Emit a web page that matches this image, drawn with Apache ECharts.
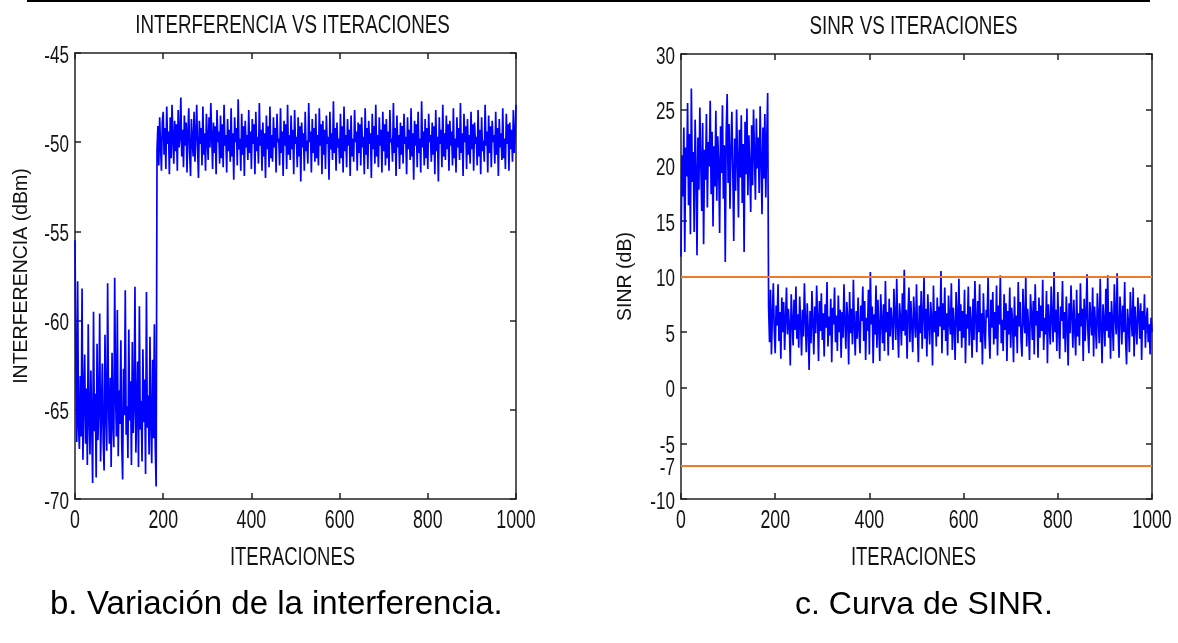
<!DOCTYPE html>
<html>
<head>
<meta charset="utf-8">
<script src="https://cdn.jsdelivr.net/npm/echarts@6/dist/echarts.min.js"></script>
<style>html,body{margin:0;padding:0;background:#fff}#c{width:1178px;height:643px}</style>
</head>
<body>
<div id="c"></div>
<script>
// ---- data (one value every 2 iterations) ----
const STEP = 2;
const xTicks = [0, 200, 400, 600, 800, 1000];
const interfTicks = [-70, -65, -60, -55, -50, -45];
const sinrTicks = [-10, -7, -5, 0, 5, 10, 15, 20, 25, 30];
const sinrThresholds = [10, -7];

const interferencia = [
-55.5,-62.5,-66.8,-57.8,-65.9,-67.2,-63.1,-66.5,-58.2,-67.8,-64.3,-61.9,-66.9,-63.8,-68.1,-60.2,-65.4,-67.5,-62.8,-65.9,-69.1,-59.5,-66.2,-64.1,-68.8,
-61.3,-66.7,-64.9,-59.6,-67.9,-65.2,-62.4,-66.8,-68.4,-60.8,-65.1,-67.3,-57.9,-64.6,-66.9,-63.2,-68.2,-61.8,-65.7,-67.1,-57.6,-64.2,-66.5,-59.4,-67.6,
-63.9,-65.8,-61.1,-66.9,-68.9,-62.7,-65.3,-58.3,-66.4,-64.8,-67.7,-60.5,-65.6,-63.4,-68.1,-61.2,-66.3,-64.7,-58.1,-67.4,-65.0,-62.3,-68.2,-59.2,-66.1,
-64.5,-67.9,-61.6,-65.7,-63.3,-68.6,-58.4,-66.0,-64.2,-67.5,-60.9,-65.8,-68.0,-62.2,-66.6,-60.2,-67.1,-69.3,-50.4,-49.1,-51.3,-48.6,-50.2,-51.6,-48.9,
-48.3,-50.7,-49.2,-51.5,-48.0,-50.1,-49.4,-51.8,-48.6,-50.9,-47.9,-49.8,-51.2,-48.8,-50.5,-49.0,-51.6,-48.2,-50.3,-49.7,-47.5,-50.8,-49.3,-51.4,-48.5,
-50.2,-48.9,-51.7,-49.5,-48.1,-50.6,-51.9,-48.7,-49.9,-50.8,-48.3,-51.1,-49.6,-47.9,-50.4,-52.0,-48.8,-50.1,-49.2,-51.3,-48.0,-50.7,-49.5,-51.6,-48.4,
-49.8,-51.0,-48.6,-50.3,-47.8,-49.7,-51.5,-48.9,-50.6,-49.1,-51.8,-48.2,-50.0,-49.4,-51.2,-48.5,-50.9,-49.0,-51.4,-47.9,-50.2,-49.6,-51.7,-48.7,-50.5,
-49.3,-51.1,-48.1,-50.8,-49.5,-52.1,-48.6,-50.0,-49.2,-51.3,-47.6,-50.4,-49.8,-51.6,-48.4,-50.7,-49.1,-51.9,-48.8,-50.3,-49.6,-51.0,-48.2,-50.6,-49.4,
-51.5,-48.7,-50.1,-49.0,-51.8,-48.3,-50.5,-49.7,-51.2,-47.8,-50.2,-49.3,-51.6,-48.9,-50.8,-49.5,-52.0,-48.5,-50.4,-49.1,-51.4,-48.0,-50.9,-49.6,-51.1,
-48.6,-50.3,-49.2,-51.7,-48.4,-50.0,-49.8,-51.3,-48.1,-50.6,-49.4,-51.9,-48.8,-50.2,-49.0,-51.5,-47.9,-50.7,-49.6,-51.0,-48.5,-50.4,-49.3,-51.8,-48.2,
-50.1,-49.7,-51.4,-48.6,-50.8,-49.1,-52.2,-48.9,-50.3,-49.5,-51.6,-48.3,-50.5,-49.9,-51.2,-47.8,-50.0,-49.4,-51.7,-48.7,-50.6,-49.2,-51.1,-48.4,-50.9,
-49.6,-51.3,-48.1,-50.2,-49.0,-51.8,-48.8,-50.7,-49.3,-51.5,-48.5,-50.1,-49.7,-52.1,-48.3,-50.4,-49.5,-51.0,-47.7,-50.6,-49.2,-51.6,-48.9,-50.3,-49.8,
-51.2,-48.4,-50.9,-49.1,-51.7,-48.0,-50.5,-49.6,-51.4,-48.7,-50.2,-49.3,-51.9,-48.5,-50.8,-49.8,-51.1,-48.2,-50.0,-49.4,-51.6,-48.9,-50.6,-49.0,-51.3,
-48.6,-50.3,-49.7,-51.8,-48.1,-50.7,-49.2,-51.5,-48.8,-50.1,-49.5,-52.0,-48.4,-50.4,-49.1,-51.2,-47.9,-50.8,-49.6,-51.4,-48.6,-50.2,-49.3,-51.7,-48.3,
-50.5,-49.0,-51.3,-48.7,-50.9,-49.4,-51.6,-48.2,-50.0,-49.8,-51.1,-47.8,-50.6,-49.2,-51.9,-48.5,-50.3,-49.6,-51.5,-48.9,-50.7,-49.1,-51.2,-48.4,-50.1,
-49.7,-51.8,-48.6,-50.4,-49.3,-51.0,-48.1,-50.8,-49.5,-52.1,-48.8,-50.2,-49.0,-51.4,-48.3,-50.6,-49.8,-51.7,-47.7,-50.3,-49.4,-51.3,-48.7,-50.9,-49.2,
-51.5,-48.4,-50.0,-49.6,-51.1,-48.9,-50.7,-49.1,-51.8,-48.2,-50.5,-49.7,-52.2,-48.6,-50.1,-49.3,-51.4,-47.9,-50.8,-49.5,-51.0,-48.5,-50.4,-49.0,-51.6,
-48.8,-50.2,-49.4,-51.3,-48.1,-50.9,-49.8,-51.7,-48.6,-50.3,-49.2,-51.0,-47.8,-50.6,-49.5,-51.9,-48.4,-50.0,-49.1,-51.5,-48.7,-50.7,-49.6,-51.2,-48.3,
-50.4,-49.0,-51.6,-48.9,-50.1,-49.7,-51.3,-48.2,-50.8,-49.3,-51.8,-48.6,-50.5,-49.9,-51.1,-47.9,-50.2,-49.4,-51.7,-48.5,-50.6,-49.1,-51.4,-48.8,-50.0,
-49.6,-51.2,-48.3,-50.7,-49.2,-51.9,-48.7,-50.3,-49.5,-51.0,-48.1,-50.9,-49.8,-51.5,-48.4,-50.1,-49.0,-51.6,-48.9,-50.4,-49.3,-51.1,-48.2,-50.6,-49.7,
-47.9
];

const sinr = [
11.8,20.9,17.2,23.4,12.2,21.6,19.0,25.6,16.4,22.8,13.8,26.9,18.5,21.2,14.0,24.1,19.6,11.9,22.5,17.8,25.2,20.3,15.9,23.8,12.9,
21.4,18.7,24.6,16.2,22.1,19.9,25.8,17.4,23.0,14.5,21.7,18.1,24.9,16.8,22.6,20.2,13.9,23.5,19.3,25.4,17.0,21.8,11.3,22.9,26.4,
18.4,23.7,16.1,21.3,24.8,19.5,13.2,22.4,17.7,25.0,20.6,15.3,23.2,18.9,24.5,16.6,21.9,12.2,23.9,19.2,25.1,17.3,22.7,20.0,15.8,
23.6,18.2,25.0,21.1,16.9,24.2,19.7,22.5,17.5,25.3,20.4,15.6,23.4,18.8,24.6,17.1,22.3,26.5,7.2,4.1,8.8,3.0,6.5,9.4,5.2,
3.1,7.4,5.6,9.3,4.2,6.8,2.6,8.1,5.0,7.7,3.4,6.2,9.0,4.8,7.1,5.5,2.0,8.4,6.0,3.8,7.9,5.2,9.1,4.4,6.6,
3.6,8.2,5.8,2.9,7.0,4.6,9.4,6.1,3.2,7.6,5.3,1.6,6.9,4.0,8.7,5.9,3.0,7.3,4.9,9.2,6.3,2.4,7.8,5.1,8.5,
4.3,6.7,2.8,7.5,5.4,9.5,3.7,6.4,4.7,8.0,2.3,7.2,5.7,9.0,4.1,6.5,3.3,8.3,5.0,7.0,2.7,6.8,4.5,9.3,5.9,
3.5,7.7,6.2,2.1,8.6,4.9,7.1,3.9,9.7,5.6,2.9,6.9,4.4,8.1,5.3,3.1,7.4,6.0,9.1,4.2,7.8,2.5,6.3,5.1,8.8,
3.0,10.4,5.7,7.3,2.2,6.6,4.8,9.2,3.6,7.9,5.4,2.4,8.4,6.1,4.0,7.5,3.3,9.6,5.0,6.8,2.9,8.0,4.6,7.2,5.8,
3.4,8.9,6.4,4.3,9.8,5.5,2.7,7.6,6.2,3.8,8.5,5.1,10.6,4.7,7.0,2.6,6.7,9.0,4.1,7.8,5.6,3.2,8.2,6.0,4.5,
9.3,5.3,2.3,7.4,4.9,8.7,3.5,6.5,10.0,4.4,7.1,2.8,8.4,5.8,3.9,7.7,6.3,2.0,9.2,5.0,6.9,3.7,8.1,4.6,7.3,
5.5,10.5,3.1,7.6,5.2,9.0,4.2,6.7,2.9,8.3,6.0,4.8,9.4,3.4,7.2,5.6,2.5,8.6,6.4,4.0,9.8,5.1,7.5,3.6,6.9,
4.5,8.8,2.2,6.6,5.3,9.1,3.8,7.3,5.9,2.7,8.0,4.3,9.6,6.2,3.2,7.8,5.0,9.3,4.1,6.7,2.1,8.5,5.6,3.5,7.0,
6.3,9.9,4.7,2.6,7.9,5.4,8.6,3.9,6.8,4.4,9.2,2.9,7.4,5.7,10.1,4.0,6.1,3.3,8.4,5.2,7.6,2.4,6.9,4.8,9.0,
3.6,7.2,5.9,2.3,8.2,4.6,6.5,3.1,9.5,5.5,7.7,4.2,2.8,8.9,6.0,4.9,10.0,3.7,7.1,5.3,2.5,8.4,6.6,4.3,7.8,
3.0,9.3,5.6,6.9,2.7,8.1,4.5,7.4,5.1,9.7,3.4,6.3,4.8,8.7,2.2,7.5,5.8,3.9,9.1,6.2,4.1,10.4,5.0,7.0,3.3,
8.6,5.4,2.6,7.3,6.0,9.6,4.4,6.8,3.2,8.2,5.7,2.0,7.6,4.9,9.2,6.4,3.6,7.9,5.2,2.9,8.8,4.6,6.7,3.8,9.4,
5.5,7.1,2.4,8.0,4.2,6.5,10.2,5.0,3.1,7.7,6.1,4.7,9.0,2.8,7.3,5.6,3.5,8.5,6.3,4.0,9.8,5.3,2.2,7.5,6.0,
3.7,8.9,5.1,10.1,4.5,6.8,2.6,7.8,5.9,3.3,9.3,6.4,4.8,10.3,5.4,2.7,8.2,6.6,3.9,7.4,5.0,9.5,4.3,2.1,7.1,
5.8,3.2,8.6,6.2,4.6,9.0,2.8,7.3,5.5,3.9,8.1,6.7,4.4,7.6,2.5,6.9,5.2,8.4,3.6,6.0,7.2,4.1,5.7,3.0,6.3,
5.0
];

// ---- rendering ----
const REG = "'Liberation Sans',Arial,sans-serif";
const NARROW_SCALE = 0.71;   // emulates the condensed (Arial Narrow-like) face of the original
const TXT = '#141414';
const toPairs = arr => arr.map((v, i) => [i * STEP, v]);

const AX = { color: '#222', width: 1.5 };

function xAxes(gi) {
  const base = {
    type: 'value', gridIndex: gi, min: 0, max: 1000, interval: 200,
    axisLine: { onZero: false, lineStyle: AX },
    axisTick: { inside: true, length: 6, lineStyle: AX },
    axisLabel: { show: false }, splitLine: { show: false }
  };
  return [Object.assign({ position: 'bottom' }, base), Object.assign({ position: 'top' }, base)];
}

function yAxes(gi, min, max, ticks, name, gap) {
  const base = {
    type: 'value', gridIndex: gi, min: min, max: max,
    axisLine: { show: true, onZero: false, lineStyle: AX },
    axisTick: { inside: true, length: 6, customValues: ticks, lineStyle: AX },
    axisLabel: { show: false, customValues: ticks },
    splitLine: { show: false }
  };
  return [Object.assign({}, base, {
    position: 'left', name: name, nameLocation: 'middle', nameGap: gap,
    nameTextStyle: { fontFamily: REG, fontSize: 19.5, color: TXT }
  }), Object.assign({}, base, { position: 'right' })];
}

const chart = echarts.init(document.getElementById('c'), null, { renderer: 'canvas' });
chart.setOption({
  animation: false,
  backgroundColor: '#fff',
  grid: [
    { left: 75, top: 53, width: 441, height: 446 },
    { left: 681, top: 54, width: 471, height: 445 }
  ],
  xAxis: [].concat(xAxes(0), xAxes(1)),
  yAxis: [].concat(
    yAxes(0, -70, -45, interfTicks, 'INTERFERENCIA (dBm)', 43),
    yAxes(1, -10, 30, sinrTicks, 'SINR (dB)', 45)
  ),
  series: [
    { type: 'line', xAxisIndex: 0, yAxisIndex: 0, data: toPairs(interferencia),
      showSymbol: false, lineStyle: { color: '#0000ff', width: 1.7 }, z: 3 },
    { type: 'line', xAxisIndex: 2, yAxisIndex: 2, data: toPairs(sinr),
      showSymbol: false, lineStyle: { color: '#0000ff', width: 1.7 }, z: 3,
      markLine: { silent: true, symbol: ['none', 'none'], label: { show: false },
        lineStyle: { color: '#ee7a2c', width: 2.2, type: 'solid' },
        data: sinrThresholds.map(v => ({ yAxis: v })) } }
  ]
});

// condensed text labels placed through the axes' own scales
function narrowText(x, y, text, size, align) {
  return { type: 'text', x: x, y: y, scaleX: NARROW_SCALE, silent: true,
    style: { x: 0, y: 0, text: text, font: size + 'px ' + REG, fill: TXT,
      align: align, verticalAlign: 'middle', textAlign: align, textVerticalAlign: 'middle' } };
}
const panels = [
  { xi: 0, yi: 0, yTicks: interfTicks, yMin: -70, title: 'INTERFERENCIA VS ITERACIONES' },
  { xi: 2, yi: 2, yTicks: sinrTicks, yMin: -10, title: 'SINR VS ITERACIONES' }
];
const g = [];
panels.forEach(p => {
  const xLeft = chart.convertToPixel({ xAxisIndex: p.xi }, 0);
  const xRight = chart.convertToPixel({ xAxisIndex: p.xi }, 1000);
  const xMid = (xLeft + xRight) / 2;
  const yBottom = chart.convertToPixel({ yAxisIndex: p.yi }, p.yMin);
  const yTop = chart.convertToPixel({ yAxisIndex: p.yi }, p.yTicks[p.yTicks.length - 1]);
  xTicks.forEach(v => {
    g.push(narrowText(chart.convertToPixel({ xAxisIndex: p.xi }, v), yBottom + 22, String(v), 25, 'center'));
  });
  p.yTicks.forEach(v => {
    g.push(narrowText(xLeft - 6, chart.convertToPixel({ yAxisIndex: p.yi }, v) + 3, String(v), 24, 'right'));
  });
  g.push(narrowText(xMid - 3, yBottom + 59, 'ITERACIONES', 26, 'center'));
  g.push(narrowText(xMid - 3, yTop - 27, p.title, 26.5, 'center'));
});
g.push({ type: 'line', silent: true, shape: { x1: 27, y1: 1, x2: 1150, y2: 1 }, style: { stroke: '#000', lineWidth: 2 } });
g.push({ type: 'text', x: 50, y: 605, silent: true, style: { x: 0, y: 0, text: 'b.', font: '33px ' + REG, fill: '#000', verticalAlign: 'middle', textVerticalAlign: 'middle' } });
g.push({ type: 'text', x: 87, y: 605, silent: true, style: { x: 0, y: 0, text: 'Variación de la interferencia.', font: '33px ' + REG, fill: '#000', verticalAlign: 'middle', textVerticalAlign: 'middle' } });
g.push({ type: 'text', x: 795, y: 605, silent: true, style: { x: 0, y: 0, text: 'c. Curva de SINR.', font: '32px ' + REG, fill: '#000', verticalAlign: 'middle', textVerticalAlign: 'middle' } });
chart.setOption({ graphic: g });
</script>
</body>
</html>
